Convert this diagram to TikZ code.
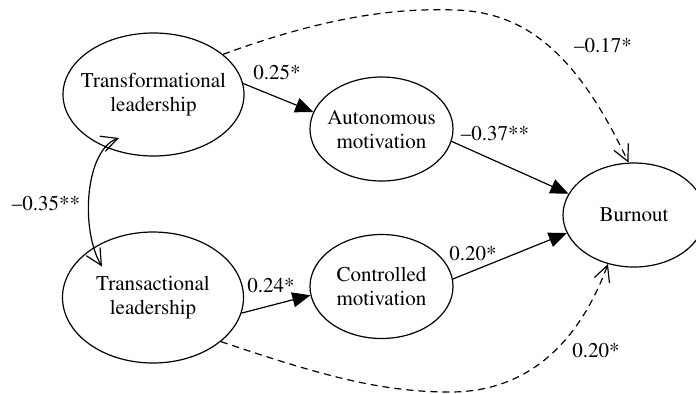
\documentclass[tikz,border=0pt]{standalone}
\usepackage[T1]{fontenc}
\usepackage{mathptmx}
\usetikzlibrary{shapes.geometric,arrows.meta}

\tikzstyle{vertex}=[ellipse,draw,line width=0.6pt,inner xsep=-8pt,inner ysep=0pt,align=center,font=\fontsize{10.5}{12}\selectfont]
\tikzstyle{leader vertex} = [vertex, minimum width=90.5pt, minimum height=61.5pt]
\tikzstyle{motive vertex} = [vertex, minimum width=71.5pt, minimum height=52pt]
\tikzstyle{weight} = [font=\fontsize{10.5}{12}\selectfont]
\tikzstyle{edge} = [draw,line width=0.6pt,-{Triangle[length=9pt,width=7.5pt]}]
\tikzstyle{direct edge} = [draw,line width=0.6pt,dash pattern=on 3.5pt off 2.5pt,-{Straight Barb[length=8pt,width=8pt]}]
\tikzstyle{cov edge} = [draw,line width=0.6pt,{Straight Barb[length=8pt,width=8pt]}-{Straight Barb[length=8pt,width=8pt]}]

\begin{document}
\begin{tikzpicture}[x=0.5pt,y=-0.5pt]
    \useasboundingbox (0,0) rectangle (696,393);
    % Draw the model
    % First the leadership styles
    \node[leader vertex] (Trf) at (153.5,94.5) {Transformational\\leadership};
    \node[leader vertex, minimum height=65.5pt] (Trs) at (153,297.5) {Transactional\\leadership};
    % Second the motivations and the outcome
    \foreach \pos/\name/\txt in {{(381.5,129)/Aut/Autonomous\\motivation},{(381.5,286.5)/Con/Controlled\\motivation}}
    \node[motive vertex] (\name) at \pos {\txt};
    \node[motive vertex, minimum width=71pt] (Burn) at (634,215) {Burnout};
    % Path coefficients
    \foreach \pos/\w [count=\i] in {{(277,72)/0.25*},{(271,285)/0.24*},{(495,133)/--0.37**},
        {(473,253)/0.20*},{(603,45)/--0.17*},{(596,350)/0.20*},{(46,203)/--0.35**}}
    \node[weight] (w\i) at \pos {\w};
    % Connect vertices with edges
    \foreach \source/ \dest in {Trf.7/Aut.166,Trs.350/Con.187,Aut.350/Burn.162,Con.6/Burn.195}
    \path[edge] (\source) -- (\dest);
    \path[direct edge] (Trf.30) .. controls (330,15) and (400,8) .. (455,10)
        .. controls (530,12) and (580,60) .. (Burn.96);
    \path[direct edge] (Trs.327) .. controls (320,375) and (380,392) .. (450,392)
        .. controls (530,392) and (580,340) .. (Burn.242);
    \path[cov edge] ([xshift=-17.25pt,yshift=-21.75pt]Trf.center) .. controls +(-34,12) and +(-22,-37)
        .. ([xshift=-25.5pt,yshift=15.5pt]Trs.center);
\end{tikzpicture}
\end{document}
